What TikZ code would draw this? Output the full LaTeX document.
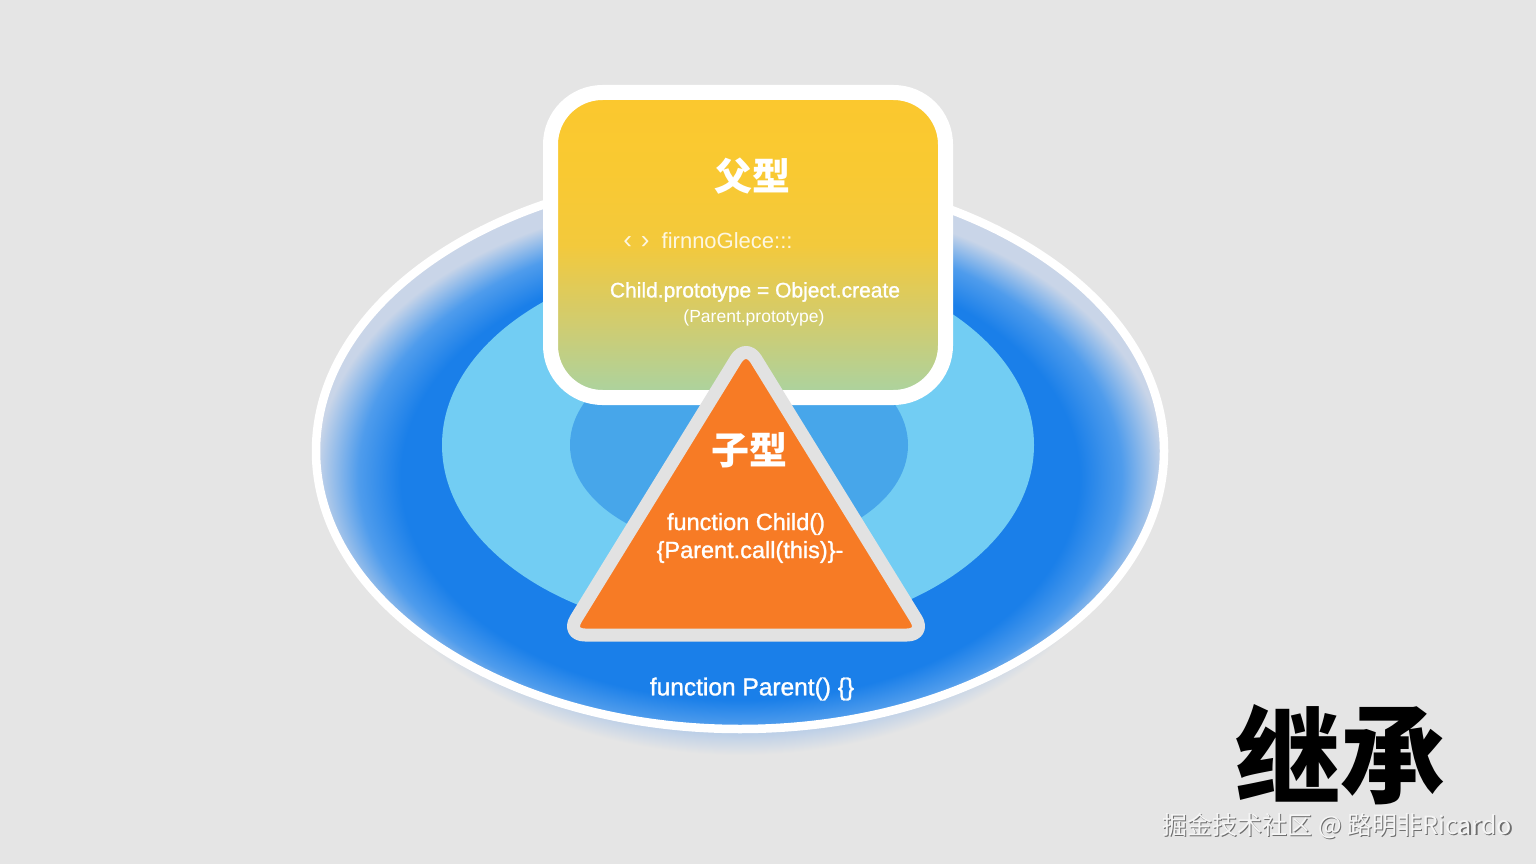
\documentclass[tikz,border=0pt]{standalone}
\usepackage{fontspec}
\setmainfont{Liberation Sans}
\newfontfamily\semib{Liberation Sans}[FakeBold=1.2]
\newfontfamily\cjk{Noto Sans CJK SC}
\definecolor{bg}{HTML}{E5E5E5}
\definecolor{ringblue}{HTML}{1A7FE9}
\definecolor{ringmid}{HTML}{4F9CEC}
\definecolor{ringpale}{HTML}{C9D5E8}
\definecolor{glowblue}{HTML}{8DB6EA}
\definecolor{midblue}{HTML}{72CDF3}
\definecolor{innerblue}{HTML}{47A6EA}
\definecolor{boxtop}{HTML}{FBC82E}
\definecolor{boxup}{HTML}{F9C932}
\definecolor{boxmid}{HTML}{F3C93C}
\definecolor{boxlow}{HTML}{D0CC70}
\definecolor{boxbot}{HTML}{A9D3A2}
\definecolor{triorange}{HTML}{F77B25}
\definecolor{trigray}{HTML}{E2E2E2}
\definecolor{wmgray}{HTML}{6E6E6E}
\pgfdeclareradialshading{ringshade}{\pgfpoint{0bp}{-4bp}}{color(0bp)=(ringblue); color(20bp)=(ringblue); color(22.5bp)=(ringmid); color(25bp)=(ringpale); color(50bp)=(ringpale)}
\pgfdeclareradialshading{glowshade}{\pgfpoint{0bp}{0bp}}{color(0bp)=(glowblue); color(21bp)=(glowblue); color(25bp)=(bg); color(50bp)=(bg)}
\pgfdeclareverticalshading{boxshade}{100bp}{color(0bp)=(boxbot); color(25bp)=(boxbot); color(37bp)=(boxlow); color(50bp)=(boxmid); color(62bp)=(boxup); color(75bp)=(boxtop); color(100bp)=(boxtop)}
\tikzset{
  lbl/.style={text=white, inner sep=0pt, anchor=center},
  cjktitle/.style={lbl, font=\cjk\bfseries\fontsize{38}{44}\selectfont},
}
\begin{document}
\begin{tikzpicture}[x=1pt,y=-1pt]
\fill[bg] (0,0) rectangle (1536,864);
\useasboundingbox (0,0) rectangle (1536,864);
% glow under the ring
\shade[shading=glowshade] (740,470) ellipse [x radius=400, y radius=285];
% outer ring
\shade[shading=ringshade] (740,451) ellipse [x radius=424, y radius=278];
\draw[white, line width=8.5pt] (740,451) ellipse [x radius=424, y radius=278];
% middle and inner ellipses
\fill[midblue] (738,445) ellipse [x radius=296, y radius=190];
\fill[innerblue] (739,445) ellipse [x radius=169, y radius=105];
% parent box
\shade[shading=boxshade, rounded corners=52pt] (550.5,92.5) rectangle (945.5,397.5);
\draw[white, line width=15pt, rounded corners=52pt] (550.5,92.5) rectangle (945.5,397.5);
% child triangle
\filldraw[fill=triorange, draw=trigray, line width=13pt, rounded corners=19pt, line join=round]
  (746,343) -- (926,635) -- (566,635) -- cycle;
% texts
\node[cjktitle] (ptitle) at (752,176) {父型};
\node[lbl, text opacity=0.85, font=\fontsize{22}{26}\selectfont] (pcode1) at (708,241) {{\fontsize{26}{26}\selectfont‹\,\,›}\ \ firnnoGlece:::};
\node[lbl, font=\semib\fontsize{21}{25}\selectfont] (pcode2) at (755,292) {Child.prototype = Object.create};
\node[lbl, font=\fontsize{17.5}{21}\selectfont] (pcode3) at (754,318) {(Parent.prototype)};
\node[cjktitle] (ctitle) at (749,450) {子型};
\node[lbl, font=\semib\fontsize{23.5}{28}\selectfont] (ccode1) at (746,524) {function Child()};
\node[lbl, font=\semib\fontsize{23.5}{28}\selectfont] (ccode2) at (750,552) {\{Parent.call(this)\}-};
\node[lbl, font=\semib\fontsize{24.5}{30}\selectfont] (rcode) at (752,689) {function Parent() \{\}};
\node[inner sep=0pt, text=black, font=\cjk\bfseries\fontsize{105}{110}\selectfont] (big) at (1340,755) {继承};
\node[inner sep=0pt, text=wmgray, font=\cjk\fontsize{25}{28}\selectfont] (wmshadow) at (1338.5,827.5) {掘金技术社区 @ 路明非Ricardo};
\node[inner sep=0pt, text=white!96!black, font=\cjk\fontsize{25}{28}\selectfont] (wm) at (1337,826) {掘金技术社区 @ 路明非Ricardo};
\end{tikzpicture}
\end{document}
